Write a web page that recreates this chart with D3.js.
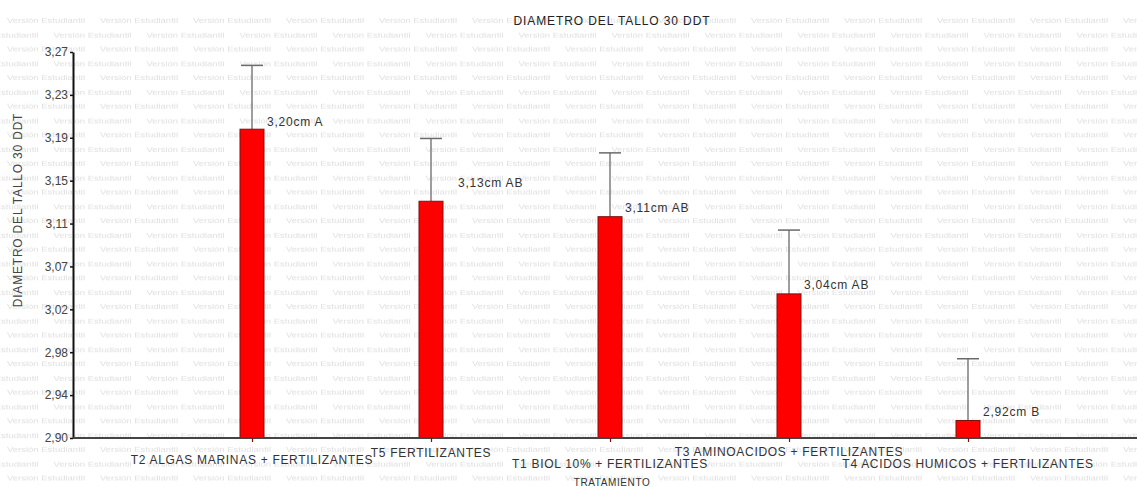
<!DOCTYPE html>
<html>
<head>
<meta charset="utf-8">
<script src="https://cdn.jsdelivr.net/npm/d3@7"></script>
<style>
  body { margin: 0; background: #fff; }
  svg { display: block; font-family: "Liberation Sans", Arial, sans-serif; }
</style>
</head>
<body>
<svg id="chart"></svg>
<script>
// data
var tratamientos = [
  "T2 ALGAS MARINAS + FERTILIZANTES",
  "T5 FERTILIZANTES",
  "T1 BIOL 10% + FERTILIZANTES",
  "T3 AMINOACIDOS + FERTILIZANTES",
  "T4 ACIDOS HUMICOS + FERTILIZANTES"
];
var medias = [3.20, 3.13, 3.115, 3.04, 2.917];
var errores = [0.062, 0.061, 0.062, 0.062, 0.060];
var etiquetas = ["3,20cm A", "3,13cm AB", "3,11cm AB", "3,04cm AB", "2,92cm B"];
var yTickLabels = ["2,90", "2,94", "2,98", "3,02", "3,07", "3,11", "3,15", "3,19", "3,23", "3,27"];
var yMin = 2.90, yMax = 3.275;

var width = 1137, height = 487;
var margin = { top: 52, right: -10, bottom: 49, left: 73 };

var svg = d3.select("#chart")
  .attr("width", width)
  .attr("height", height);

// faint "student version" watermark behind everything
var defs = svg.append("defs");
var pat = defs.append("pattern")
  .attr("id", "marca")
  .attr("patternUnits", "userSpaceOnUse")
  .attr("x", 0).attr("y", 14)
  .attr("width", 93).attr("height", 28.6);
[[7, 9], [-39.5, 23.3], [53.5, 23.3]].forEach(function(p) {
  pat.append("text").attr("x", p[0]).attr("y", p[1])
    .attr("textLength", 78)
    .attr("lengthAdjust", "spacingAndGlyphs")
    .style("font-size", "8px").style("fill", "#e0e0e0")
    .text("Versión Estudiantil");
});

svg.append("rect")
  .attr("x", 0).attr("y", 14)
  .attr("width", width).attr("height", height - 14)
  .attr("fill", "url(#marca)");

var x = d3.scalePoint()
  .domain(tratamientos)
  .range([margin.left, 1147])
  .padding(1);

var y = d3.scaleLinear()
  .domain([yMin, yMax])
  .range([height - margin.bottom, margin.top]);

var tickVals = yTickLabels.map(function(d, i) {
  return yMin + i * (yMax - yMin) / (yTickLabels.length - 1);
});

var barW = 24;
var g = svg.append("g");

// error bars
g.selectAll(".err")
  .data(tratamientos)
  .enter()
  .append("line")
  .attr("x1", function(d) { return x(d); })
  .attr("x2", function(d) { return x(d); })
  .attr("y1", function(d, i) { return y(medias[i]); })
  .attr("y2", function(d, i) { return y(medias[i] + errores[i]); })
  .attr("stroke", "#6a6a6a")
  .attr("stroke-width", 1.3);

g.selectAll(".cap")
  .data(tratamientos)
  .enter()
  .append("line")
  .attr("x1", function(d) { return x(d) - barW / 2 + 1; })
  .attr("x2", function(d) { return x(d) + barW / 2 - 1; })
  .attr("y1", function(d, i) { return y(medias[i] + errores[i]); })
  .attr("y2", function(d, i) { return y(medias[i] + errores[i]); })
  .attr("stroke", "#6a6a6a")
  .attr("stroke-width", 1.5);

// bars
g.selectAll(".bar")
  .data(tratamientos)
  .enter()
  .append("rect")
  .attr("x", function(d) { return x(d) - barW / 2; })
  .attr("y", function(d, i) { return y(medias[i]); })
  .attr("width", barW)
  .attr("height", function(d, i) { return y(yMin) - y(medias[i]); })
  .attr("fill", "#ff0000")
  .attr("stroke", "#7a1010")
  .attr("stroke-width", 1);

// value labels (the second one sits a bit higher in the original)
var labDx = [3, 15, 3, 3, 3];
var labDy = [-3, -14, -5, -5, -5];
g.selectAll(".lab")
  .data(tratamientos)
  .enter()
  .append("text")
  .attr("x", function(d, i) { return x(d) + barW / 2 + labDx[i]; })
  .attr("y", function(d, i) { return y(medias[i]) + labDy[i]; })
  .style("font-size", "12px")
  .style("letter-spacing", "0.8px")
  .style("fill", "#333")
  .text(function(d, i) { return etiquetas[i]; });

// y axis
var yAxis = svg.append("g")
  .attr("transform", "translate(" + margin.left + ",0)")
  .call(d3.axisLeft(y)
    .tickValues(tickVals)
    .tickSize(3)
    .tickSizeOuter(0)
    .tickFormat(function(d, i) { return yTickLabels[i]; }));
yAxis.select(".domain").attr("stroke", "#111").attr("stroke-width", 2);
yAxis.selectAll(".tick line").attr("stroke", "#111").attr("stroke-width", 1.5);
yAxis.selectAll(".tick text")
  .attr("x", -5)
  .style("font-size", "12px")
  .style("font-family", "Liberation Sans, Arial, sans-serif")
  .style("fill", "#444");

// x axis
var xAxis = svg.append("g")
  .attr("transform", "translate(0," + y(yMin) + ")")
  .call(d3.axisBottom(x).tickSize(4).tickSizeOuter(0).tickFormat(""));
xAxis.select(".domain")
  .attr("d", "M" + margin.left + ",0H" + width)
  .attr("stroke", "#444")
  .attr("stroke-width", 2.2);
xAxis.selectAll(".tick line").attr("stroke", "#7a1010").attr("stroke-width", 1.2);

// staggered category labels
var labY = [464, 457, 468, 456, 468];
svg.selectAll(".cat")
  .data(tratamientos)
  .enter()
  .append("text")
  .attr("x", function(d) { return x(d); })
  .attr("y", function(d, i) { return labY[i]; })
  .attr("text-anchor", "middle")
  .style("font-size", "12px")
  .style("letter-spacing", "0.7px")
  .style("fill", "#333")
  .text(function(d) { return d; });

// titles
svg.append("text")
  .attr("x", 612)
  .attr("y", 25)
  .attr("text-anchor", "middle")
  .style("font-size", "12px")
  .style("letter-spacing", "0.9px")
  .style("fill", "#222")
  .text("DIAMETRO DEL TALLO 30 DDT");

svg.append("text")
  .attr("transform", "translate(22," + 210 + ") rotate(-90)")
  .attr("text-anchor", "middle")
  .style("font-size", "12px")
  .style("letter-spacing", "0.8px")
  .style("fill", "#444")
  .text("DIAMETRO DEL TALLO 30 DDT");

svg.append("text")
  .attr("x", 612)
  .attr("y", 486)
  .attr("text-anchor", "middle")
  .style("font-size", "10px")
  .style("letter-spacing", "0.6px")
  .style("fill", "#333")
  .text("TRATAMIENTO");
</script>
</body>
</html>
